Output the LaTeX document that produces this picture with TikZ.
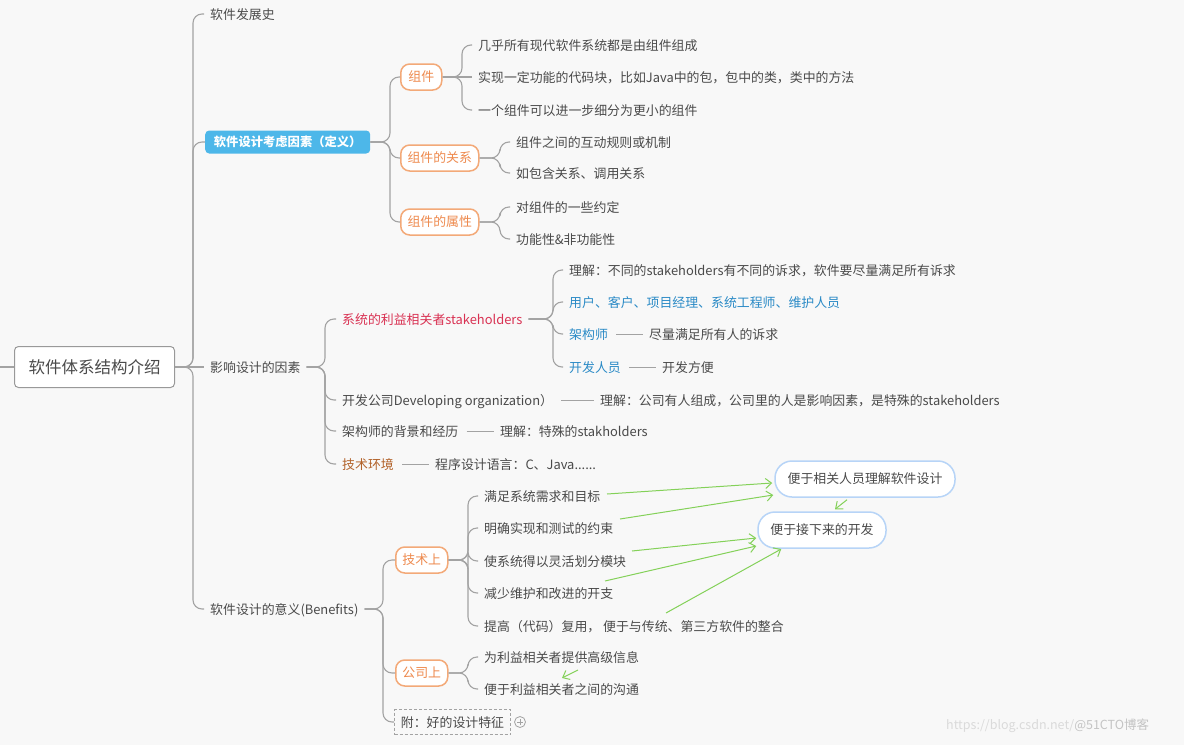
\documentclass[tikz,border=0pt]{standalone}
\usepackage{fontspec}
\setmainfont{Noto Sans CJK SC}
\usetikzlibrary{arrows.meta}
\definecolor{bgc}{HTML}{F8F8F8}
\definecolor{txtc}{HTML}{4A4A4A}
\definecolor{linec}{HTML}{A3A3A3}
\definecolor{orb}{HTML}{F3A978}
\definecolor{ort}{HTML}{EE8A4E}
\definecolor{blueb}{HTML}{4DB7E9}
\definecolor{redt}{HTML}{D93253}
\definecolor{bluet}{HTML}{2A8AC6}
\definecolor{brownt}{HTML}{B2622A}
\definecolor{grn}{HTML}{84D159}
\definecolor{flb}{HTML}{B7D4F7}
\definecolor{wmA}{HTML}{DADADA}
\definecolor{wmB}{HTML}{C4C4C4}
\begin{document}
\begin{tikzpicture}[x=1pt,y=-1pt,
 fs/.style={font=\fontsize{12.9}{15}\selectfont},
 txt/.style={fs, anchor=west, inner sep=2pt, text=txtc, text height=12pt, text depth=1pt},
 obox/.style={fs, anchor=west, draw=orb, line width=1.5pt, fill=white, text=ort, rounded corners=9pt, inner xsep=2pt, inner ysep=0pt, minimum height=26pt},
 bbox/.style={anchor=west, fill=blueb, text=white, rounded corners=4pt, inner xsep=2pt, minimum height=23pt, font=\bfseries\fontsize{12.3}{15}\selectfont},
 rbox/.style={anchor=west, draw=gray!80, fill=white, rounded corners=4pt, line width=1pt, inner xsep=2pt, minimum height=41pt, font=\fontsize{16.5}{20}\selectfont, text=txtc},
 fbox/.style={fs, draw=flb, line width=1.5pt, fill=white, rounded corners=17pt, inner xsep=2pt, minimum height=36pt, text=txtc},
 link/.style={draw=linec, line width=1.1pt, rounded corners=9pt},
 tl/.style={shorten >=4pt},
 fl/.style={shorten <=4pt},
 dl/.style={draw=linec, line width=1pt, shorten <=6pt, shorten >=4pt},
 garr/.style={draw=grn, line width=1pt, -{Straight Barb[length=6pt,width=10pt]}},
]
\useasboundingbox[fill=bgc] (0,0) rectangle (1184,745);

% root and trunk
\node[rbox, minimum width=160pt] (root) at (14,367) {软件体系结构介绍};
\coordinate (lin) at (0,367);
\draw[link] (lin) -- (root);
\coordinate (spR) at (193,0);
\node[txt] (h) at (208,14) {软件发展史};
\node[bbox, minimum width=165pt] (def) at (205,142) {软件设计考虑因素（定义）};
\node[txt] (inf) at (208,367) {影响设计的因素};
\node[txt] (ben) at (208,609) {软件设计的意义(Benefits)};
\draw[link,tl] (root.east) -- (root.east -| spR) |- (h.west);
\draw[link] (root.east) -- (root.east -| spR) |- (def.west);
\draw[link,tl] (root.east) -- (inf.west);
\draw[link,tl] (root.east) -- (root.east -| spR) |- (ben.west);

% definition subtree
\coordinate (spD) at (390,0);
\node[obox, minimum width=41pt] (c1) at (400,77) {组件};
\node[obox, minimum width=78pt] (c2) at (400,158) {组件的关系};
\node[obox, minimum width=78pt] (c3) at (400,222) {组件的属性};
\draw[link] (def.east) -- (def.east -| spD) |- (c1.west);
\draw[link] (def.east) -- (def.east -| spD) |- (c2.west);
\draw[link] (def.east) -- (def.east -| spD) |- (c3.west);

\coordinate (spC1) at (462,0);
\node[txt] (c11) at (476,45) {几乎所有现代软件系统都是由组件组成};
\node[txt] (c12) at (476,77) {实现一定功能的代码块，比如Java中的包，包中的类，类中的方法};
\node[txt] (c13) at (476,110) {一个组件可以进一步细分为更小的组件};
\draw[link,tl] (c1.east) -- (c1.east -| spC1) |- (c11.west);
\draw[link,tl] (c1.east) -- (c12.west);
\draw[link,tl] (c1.east) -- (c1.east -| spC1) |- (c13.west);

\coordinate (spC2) at (500,0);
\node[txt] (c21) at (514,142) {组件之间的互动规则或机制};
\node[txt] (c22) at (514,173) {如包含关系、调用关系};
\node[txt] (c31) at (514,207) {对组件的一些约定};
\node[txt] (c32) at (514,239) {功能性\&非功能性};
\draw[link,tl] (c2.east) -- (c2.east -| spC2) |- (c21.west);
\draw[link,tl] (c2.east) -- (c2.east -| spC2) |- (c22.west);
\draw[link,tl] (c3.east) -- (c3.east -| spC2) |- (c31.west);
\draw[link,tl] (c3.east) -- (c3.east -| spC2) |- (c32.west);

% influence subtree
\coordinate (spI) at (325,0);
\node[txt, text=redt] (s) at (340,319) {系统的利益相关者stakeholders};
\node[txt] (d) at (340,400) {开发公司Developing organization）};
\node[txt] (a) at (340,431) {架构师的背景和经历};
\node[txt, text=brownt] (t) at (340,464) {技术环境};
\draw[link,fl,tl] (inf.east) -- (inf.east -| spI) |- (s.west);
\draw[link,fl,tl] (inf.east) -- (inf.east -| spI) |- (d.west);
\draw[link,fl,tl] (inf.east) -- (inf.east -| spI) |- (a.west);
\draw[link,fl,tl] (inf.east) -- (inf.east -| spI) |- (t.west);
\node[txt] (d2) at (598,400) {理解：公司有人组成，公司里的人是影响因素，是特殊的stakeholders};
\node[txt] (a2) at (498,431) {理解：特殊的stakholders};
\node[txt] (t2) at (433,464) {程序设计语言：C、Java......};
\draw[dl] (d) -- (d2);
\draw[dl] (a) -- (a2);
\draw[dl] (t) -- (t2);

\coordinate (spS) at (553,0);
\node[txt] (s1) at (567,270) {理解：不同的stakeholders有不同的诉求，软件要尽量满足所有诉求};
\node[txt, text=bluet] (s2) at (567,302) {用户、客户、项目经理、系统工程师、维护人员};
\node[txt, text=bluet] (s3) at (567,334) {架构师};
\node[txt, text=bluet] (s4) at (567,367) {开发人员};
\node[txt] (s3b) at (647,334) {尽量满足所有人的诉求};
\node[txt] (s4b) at (660,367) {开发方便};
\draw[link,fl,tl] (s.east) -- (s.east -| spS) |- (s1.west);
\draw[link,fl,tl] (s.east) -- (s.east -| spS) |- (s2.west);
\draw[link,fl,tl] (s.east) -- (s.east -| spS) |- (s3.west);
\draw[link,fl,tl] (s.east) -- (s.east -| spS) |- (s4.west);
\draw[dl] (s3) -- (s3b);
\draw[dl] (s4) -- (s4b);

% benefits subtree
\coordinate (spB) at (383,0);
\node[obox, minimum width=52pt] (b1) at (395,560) {技术上};
\node[obox, minimum width=52pt] (b2) at (395,673) {公司上};
\node[txt, draw=linec, dashed, dash pattern=on 3pt off 2pt, line width=1pt, minimum width=116pt, minimum height=25pt] (b3) at (394,722) {附：好的设计特征};
\draw[link,fl] (ben.east) -- (ben.east -| spB) |- (b1.west);
\draw[link,fl] (ben.east) -- (ben.east -| spB) |- (b2.west);
\draw[link,fl] (ben.east) -- (ben.east -| spB) |- (b3.west);
\node[circle, draw=linec, line width=0.8pt, minimum size=11pt, inner sep=0pt] (pl) at (520,722) {};
\draw[linec, line width=0.8pt] ([xshift=-3pt]pl.center) -- ([xshift=3pt]pl.center) ([yshift=-3pt]pl.center) -- ([yshift=3pt]pl.center);

\coordinate (spT) at (468,0);
\node[txt] (k1) at (482,496) {满足系统需求和目标};
\node[txt] (k2) at (482,528) {明确实现和测试的约束};
\node[txt] (k3) at (482,561) {使系统得以灵活划分模块};
\node[txt] (k4) at (482,593) {减少维护和改进的开支};
\node[txt] (k5) at (482,626) {提高（代码）复用， 便于与传统、第三方软件的整合};
\foreach \k in {k1,k2,k3,k4,k5}{\draw[link,tl] (b1.east) -- (b1.east -| spT) |- (\k.west);}
\node[txt] (g1) at (482,657) {为利益相关者提供高级信息};
\node[txt] (g2) at (482,689) {便于利益相关者之间的沟通};
\draw[link,tl] (b2.east) -- (b2.east -| spT) |- (g1.west);
\draw[link,tl] (b2.east) -- (b2.east -| spT) |- (g2.west);

% floating topics
\node[fbox, minimum width=180pt] (f1) at (865,479) {便于相关人员理解软件设计};
\node[fbox, minimum width=128pt] (f2) at (822,530) {便于接下来的开发};
\draw[garr] ([shift={(125,-2)}]k1.west) -- ([shift={(-2,4)}]f1.west);
\draw[garr] ([shift={(138,-9)}]k2.west) -- ([shift={(-1,16)}]f1.west);
\draw[garr] ([shift={(150,-10)}]k3.west) -- ([shift={(-1,8)}]f2.west);
\draw[garr] ([shift={(123,-12)}]k4.west) -- ([shift={(-1,16)}]f2.west);
\draw[garr] ([shift={(184,-13)}]k5.west) -- ([shift={(24,19)}]f2.west);
\draw[garr] ([shift={(-18,2)}]f1.south) -- ([shift={(13,-2)}]f2.north);
\draw[garr] ([shift={(96,13)}]g1.west) -- ([shift={(80,21)}]g1.west);

% watermark
\node[anchor=west, inner sep=0pt, font=\fontsize{12.5}{15}\selectfont] (wm) at (946,726) {\textcolor{wmA}{https://blog.csdn.net/}\textcolor{wmB}{@51CTO博客}};
\end{tikzpicture}
\end{document}
